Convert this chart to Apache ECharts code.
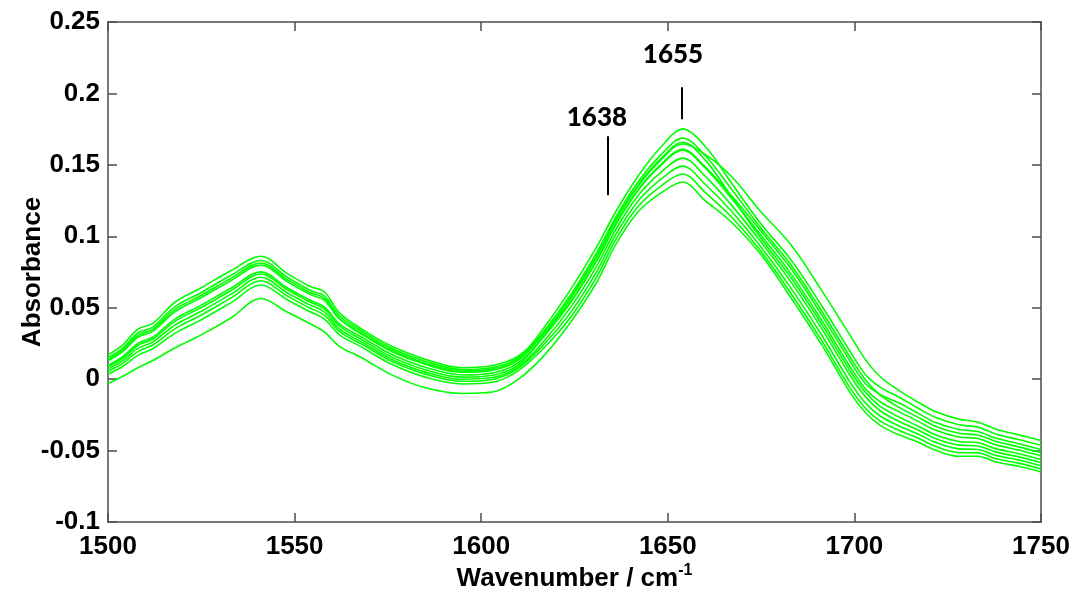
<!DOCTYPE html>
<html>
<head>
<meta charset="utf-8">
<script src="https://cdn.jsdelivr.net/npm/echarts@6/dist/echarts.min.js"></script>
<style>html,body{margin:0;padding:0;background:#fff}#c{width:1085px;height:592px}</style>
</head>
<body>
<div id="c"></div>
<script>
const wavenumber = [1500,1504,1508,1512,1518,1525,1533,1541,1548,1554,1558,1562,1568,1576,1585,1595,1603,1610,1617,1624,1631,1636,1642,1648,1654,1660,1667,1675,1683,1691,1699,1703,1707,1712,1717,1722,1728,1733,1738,1744,1750];

const spectrum1 = [0.017,0.024,0.035,0.039,0.054,0.064,0.076,0.086,0.074,0.065,0.061,0.0464,0.035,0.023,0.014,0.008,0.0095,0.0162,0.0335,0.0543,0.0835,0.1083,0.1325,0.1498,0.1609,0.1486,0.1287,0.1035,0.0774,0.0459,0.012,-0.0032,-0.0109,-0.0167,-0.0238,-0.0306,-0.0353,-0.0367,-0.0414,-0.0452,-0.0492];
const spectrum2 = [0.015,0.0218,0.0323,0.0364,0.0508,0.0607,0.0727,0.0831,0.0713,0.0624,0.0582,0.0444,0.0335,0.0215,0.0125,0.0067,0.0082,0.015,0.0367,0.063,0.093,0.117,0.142,0.162,0.175,0.163,0.1375,0.1086,0.0836,0.0524,0.0188,0.0031,-0.0058,-0.0127,-0.0202,-0.0271,-0.0319,-0.0336,-0.0385,-0.0423,-0.0463];
const spectrum3 = [0.0138,0.0205,0.0307,0.0348,0.0489,0.0587,0.0707,0.0813,0.0697,0.0608,0.0565,0.0424,0.0314,0.0194,0.0104,0.0048,0.0062,0.0133,0.0328,0.0566,0.086,0.1106,0.135,0.153,0.1646,0.1573,0.142,0.117,0.094,0.063,0.030,0.0135,0.0015,-0.008,-0.016,-0.023,-0.028,-0.030,-0.035,-0.039,-0.043];
const spectrum4 = [0.0128,0.0194,0.0293,0.0335,0.0473,0.0571,0.0691,0.0798,0.0683,0.0595,0.0551,0.0423,0.0322,0.0202,0.0112,0.0056,0.007,0.0139,0.0343,0.0591,0.0888,0.1131,0.1378,0.1566,0.1687,0.1565,0.1332,0.1056,0.0799,0.0486,0.0148,-0.0006,-0.0114,-0.0198,-0.0266,-0.0333,-0.0379,-0.0391,-0.0437,-0.0474,-0.0514];
const spectrum5 = [0.0096,0.0159,0.025,0.0294,0.0422,0.0518,0.0638,0.0751,0.064,0.0554,0.0506,0.0387,0.0293,0.0173,0.0083,0.0029,0.0043,0.0116,0.0304,0.0538,0.083,0.1078,0.132,0.1492,0.1602,0.1478,0.1268,0.1005,0.0737,0.0421,0.008,-0.0069,-0.016,-0.0229,-0.0294,-0.036,-0.0405,-0.0415,-0.046,-0.0496,-0.0536];
const spectrum6 = [0.0086,0.0148,0.0237,0.0281,0.0406,0.0501,0.0621,0.0736,0.0627,0.0541,0.0492,0.0372,0.0276,0.0156,0.0066,0.0014,0.0027,0.0102,0.0312,0.0573,0.0868,0.1113,0.1358,0.154,0.1658,0.1535,0.1281,0.0984,0.0711,0.0394,0.0052,-0.0094,-0.0192,-0.0266,-0.0328,-0.0392,-0.0436,-0.0444,-0.0488,-0.0522,-0.0562];
const spectrum7 = [0.007,0.013,0.0215,0.026,0.038,0.0475,0.0595,0.0713,0.0605,0.052,0.047,0.0352,0.0259,0.0139,0.0049,-0.0001,0.0011,0.0088,0.0272,0.0504,0.0793,0.1044,0.1283,0.1444,0.1547,0.1421,0.122,0.096,0.0681,0.0364,0.002,-0.0124,-0.0223,-0.0297,-0.0356,-0.0419,-0.0462,-0.0468,-0.0511,-0.0544,-0.0584];
const spectrum8 = [0.0054,0.0112,0.0193,0.0239,0.0354,0.0449,0.0569,0.0689,0.0583,0.0499,0.0448,0.0334,0.0245,0.0125,0.0035,-0.0015,-0.0002,0.0077,0.0249,0.0469,0.0755,0.1009,0.1245,0.1396,0.1491,0.1364,0.1177,0.0924,0.0637,0.0318,-0.0028,-0.0168,-0.026,-0.0328,-0.0384,-0.0446,-0.0488,-0.0492,-0.0534,-0.0566,-0.0606];
const spectrum9 = [0.0034,0.009,0.0166,0.0213,0.0322,0.0416,0.0536,0.0659,0.0556,0.0473,0.042,0.031,0.0224,0.0104,0.0014,-0.0034,-0.0022,0.006,0.0223,0.0435,0.0718,0.0975,0.1208,0.1348,0.1436,0.1307,0.1137,0.0894,0.06,0.028,-0.0068,-0.0205,-0.0294,-0.0359,-0.0412,-0.0473,-0.0514,-0.0516,-0.0557,-0.0588,-0.0628];
const spectrum10 = [-0.003,0.002,0.008,0.013,0.022,0.031,0.043,0.0565,0.047,0.039,0.033,0.023,0.015,0.003,-0.006,-0.010,-0.009,0.000,0.017,0.040,0.068,0.094,0.117,0.130,0.138,0.125,0.110,0.087,0.057,0.025,-0.010,-0.0235,-0.0325,-0.039,-0.044,-0.050,-0.054,-0.054,-0.058,-0.061,-0.065];

const spectra = [spectrum1,spectrum2,spectrum3,spectrum4,spectrum5,spectrum6,spectrum7,spectrum8,spectrum9,spectrum10];

const xTicks = {min:1500, max:1750, interval:50};
const yTicks = {min:-0.1, max:0.25, interval:0.05};

const peakLabels = ['1638','1655'];
const peakLineX = [1634, 1653.7];
const peakLineBottom = [0.1288, 0.182];
const peakLineTop = [0.170, 0.2044];
const peakTextX = [1631, 1651.4];
const peakTextY = [0.1834, 0.2275];

const chart = echarts.init(document.getElementById('c'), null, {renderer:'canvas'});
const axisCol = '#4d4d4d';
const lblFont = {fontFamily:'Liberation Sans', fontWeight:'bold', fontSize:26, color:'#000'};

const series = spectra.map((s,i)=>({
  type:'line', name:'s'+(i+1), showSymbol:false, smooth:0.35,
  data: wavenumber.map((x,j)=>[x,s[j]]),
  lineStyle:{color:'#00ff00', width:1.6}, itemStyle:{color:'#00ff00'},
  silent:true, animation:false, z:2
}));

series.push({
  type:'scatter', symbolSize:0, silent:true, animation:false, z:5,
  itemStyle:{opacity:1, color:'#000'},
  data: peakLabels.map((t,i)=>[peakTextX[i], peakTextY[i], t]),
  label:{show:true, position:'inside', formatter:p=>p.value[2], opacity:1,
    fontFamily:'Lato', fontWeight:900, fontSize:26, color:'#000'},
  markLine:{silent:true, symbol:['none','none'], animation:false,
    lineStyle:{color:'#000', width:2, type:'solid', opacity:1}, label:{show:false},
    data: peakLabels.map((t,i)=>[{coord:[peakLineX[i], peakLineBottom[i]]},{coord:[peakLineX[i], peakLineTop[i]]}])
  }
});

chart.setOption({
  animation:false,
  backgroundColor:'#fff',
  grid:{left:108, right:44, top:22, bottom:70, show:false, containLabel:false, outerBoundsMode:'none'},
  xAxis:[{
    type:'value', min:xTicks.min, max:xTicks.max, interval:xTicks.interval,
    axisLine:{show:true, onZero:false, lineStyle:{color:axisCol, width:1.5}},
    axisTick:{show:true, inside:true, length:9, lineStyle:{color:axisCol, width:1.5}},
    splitLine:{show:false},
    axisLabel:Object.assign({margin:12, formatter:v=>String(v)}, lblFont),
    name:'{a|Wavenumber / cm}{s|-1}', nameLocation:'middle', nameGap:41, nameMoveOverlap:false,
    nameTextStyle:{rich:{
      a:{fontFamily:'Liberation Sans', fontWeight:'bold', fontSize:26, color:'#000'},
      s:{fontFamily:'Liberation Sans', fontWeight:'bold', fontSize:16, color:'#000', verticalAlign:'top', padding:[0,0,16,0]}
    }}
  },{
    type:'value', position:'top', min:xTicks.min, max:xTicks.max, interval:xTicks.interval,
    axisLine:{show:true, onZero:false, lineStyle:{color:axisCol, width:1.5}},
    axisTick:{show:true, inside:true, length:9, lineStyle:{color:axisCol, width:1.5}},
    axisLabel:{show:false}, splitLine:{show:false}
  }],
  yAxis:[{
    type:'value', min:yTicks.min, max:yTicks.max, interval:yTicks.interval,
    axisLine:{show:true, onZero:false, lineStyle:{color:axisCol, width:1.5}},
    axisTick:{show:true, inside:true, length:9, lineStyle:{color:axisCol, width:1.5}},
    splitLine:{show:false},
    axisLabel:Object.assign({margin:8}, lblFont),
    name:'Absorbance', nameLocation:'middle', nameGap:62, nameMoveOverlap:false,
    nameTextStyle:{fontFamily:'Liberation Sans', fontWeight:'bold', fontSize:26, color:'#000'}
  },{
    type:'value', position:'right', min:yTicks.min, max:yTicks.max, interval:yTicks.interval,
    axisLine:{show:true, onZero:false, lineStyle:{color:axisCol, width:1.5}},
    axisTick:{show:true, inside:true, length:9, lineStyle:{color:axisCol, width:1.5}},
    axisLabel:{show:false}, splitLine:{show:false}
  }],
  series: series
});
</script>
</body>
</html>
